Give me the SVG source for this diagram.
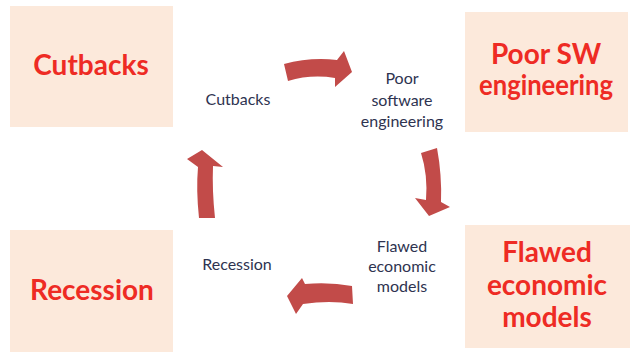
<svg xmlns="http://www.w3.org/2000/svg" width="634" height="354" viewBox="0 0 634 354">
<style>
.box{fill:#FCE9DB}
.big{font-family:Lato,"Open Sans","Liberation Sans",sans-serif;font-weight:bold;font-size:28px;fill:#EE2B24;text-anchor:middle}
.sm{font-family:Lato,"Open Sans","Liberation Sans",sans-serif;font-size:16px;fill:#2E3350;text-anchor:middle}
.arr{fill:#C24B49}
</style>
<rect width="634" height="354" fill="#fff"/>
<g id="box-cutbacks"><rect class="box" x="10" y="6" width="163" height="121"/><text class="big" x="91" y="75">Cutbacks</text></g>
<g id="box-poorsw"><rect class="box" x="465" y="12" width="163" height="120"/><text class="big" x="546" y="64">Poor SW</text><text class="big" x="546" y="95" textLength="134" lengthAdjust="spacingAndGlyphs">engineering</text></g>
<g id="box-recession"><rect class="box" x="10" y="230" width="163" height="122"/><text class="big" x="92" y="300">Recession</text></g>
<g id="box-flawed"><rect class="box" x="465" y="225" width="165" height="123"/><text class="big" x="547" y="262">Flawed</text><text class="big" x="547" y="295">economic</text><text class="big" x="547" y="327">models</text></g>
<g id="cycle-cutbacks"><text class="sm" x="238" y="105">Cutbacks</text></g>
<g id="cycle-poor"><text class="sm" x="402" y="84">Poor</text><text class="sm" x="402" y="106">software</text><text class="sm" x="402" y="127">engineering</text></g>
<g id="cycle-flawed"><text class="sm" x="402" y="252">Flawed</text><text class="sm" x="402" y="272">economic</text><text class="sm" x="402" y="292">models</text></g>
<g id="cycle-recession"><text class="sm" x="237" y="270">Recession</text></g>
<g id="connectors">
<path class="arr" d="M284,64 Q310,57 337,60 L344,51 L352,72 L335,87 L335,78 Q311,74 288,81 Z"/>
<path class="arr" d="M421,153 L437,148 Q442,175 441,202 L450,207 L429,216 L415,198 L426,200 Q428,175 421,153 Z"/>
<path class="arr" d="M352,286 Q330,282 305,284 L302,278 L287,296 L296,314 L303,304 Q330,300 353,304 Z"/>
<path class="arr" d="M199,218 Q196,190 198,167 L187,159 L202,150 L223,167 L213,166 Q212,190 215,218 Z"/>
</g>
</svg>
